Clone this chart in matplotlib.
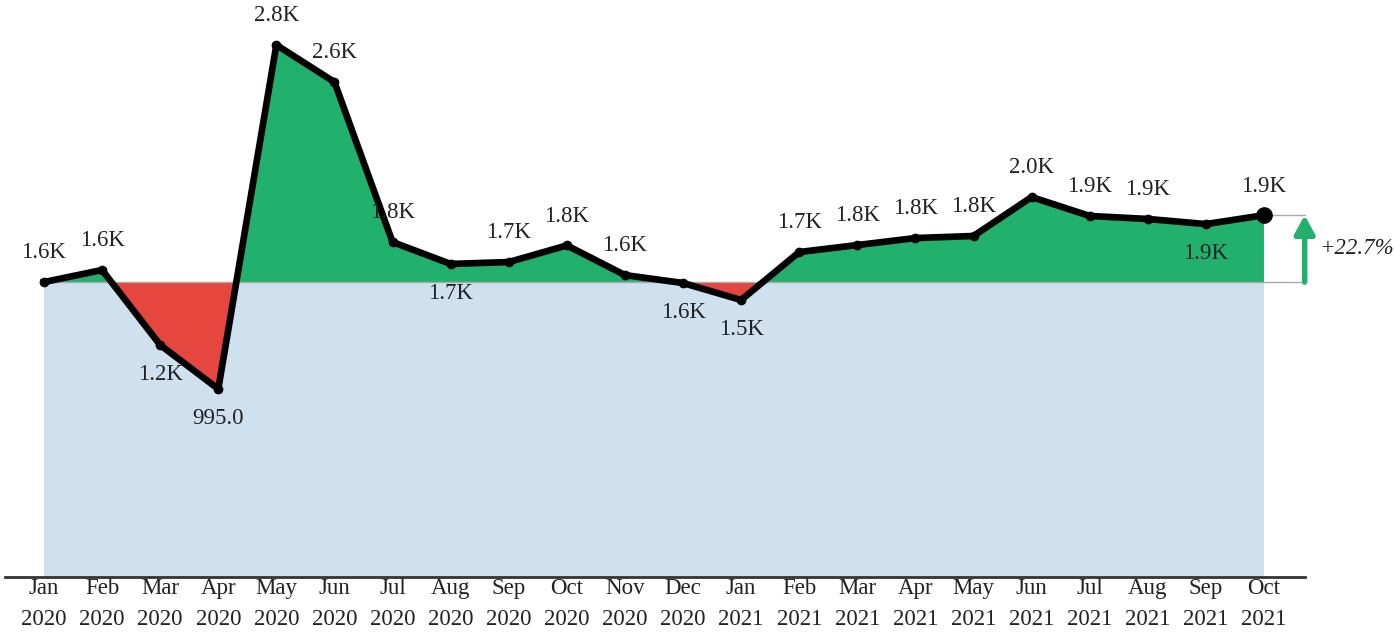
import matplotlib.pyplot as plt
import numpy as np

plt.rcParams['font.family'] = ['Liberation Serif', 'DejaVu Serif']

months = ["Jan", "Feb", "Mar", "Apr", "May", "Jun", "Jul", "Aug", "Sep", "Oct", "Nov", "Dec",
          "Jan", "Feb", "Mar", "Apr", "May", "Jun", "Jul", "Aug", "Sep", "Oct"]
years = ["2020"] * 12 + ["2021"] * 10
values = [1561, 1625, 1228, 995, 2816, 2620, 1773, 1657, 1667, 1755, 1598, 1556,
          1466, 1720, 1757, 1794, 1805, 2011, 1911, 1895, 1868, 1915]
# +1 = label above the point, -1 = below
label_side = [1, 1, -1, -1, 1, 1, 1, -1, 1, 1, 1, -1,
              -1, 1, 1, 1, 1, 1, 1, 1, -1, 1]

green = '#22b06d'
red = '#e5473e'
blue = '#cfe0ef'

fig = plt.figure(figsize=(13.94, 6.33), dpi=100)
ax = fig.add_axes([5 / 1394, 56 / 633, 1300 / 1394, 577 / 633])

x = np.arange(len(values))
v = np.array(values, dtype=float)
base = v[0]

ax.fill_between(x, 0, base, color=blue, lw=0)
ax.fill_between(x, v, base, where=v >= base, interpolate=True, color=green, lw=0)
ax.fill_between(x, v, base, where=v <= base, interpolate=True, color=red, lw=0)

ax.plot([0, 21.7], [base, base], color='#aaaaaa', lw=1, clip_on=False)
ax.plot([x[-1], 21.7], [v[-1], v[-1]], color='#aaaaaa', lw=1, clip_on=False)

ax.plot(x, v, color='black', lw=4.8, marker='o', ms=6, solid_joinstyle='round', zorder=3)
ax.plot(x[-1], v[-1], 'o', color='black', ms=11, zorder=4)

for xi, vi, s in zip(x, v, label_side):
    txt = f"{vi:.1f}" if vi < 1000 else f"{vi / 1000:.1f}K"
    ax.annotate(txt, (xi, vi), xytext=(0, 21 * s), textcoords='offset points',
                ha='center', va='center', fontsize=16.5, color='#222222', zorder=5)

# change arrow
ax.annotate('', xy=(21.7, v[-1]), xytext=(21.7, base),
            arrowprops=dict(arrowstyle='-|>,head_width=0.6,head_length=1.1',
                            color=green, lw=4, shrinkA=0, shrinkB=0),
            annotation_clip=False)
pct = (v[-1] / base - 1) * 100
ax.text(21.95, (v[-1] + base) / 2, f"+{pct:.1f}%", style='italic', fontsize=16.5,
        ha='left', va='center', color='#222222', clip_on=False)

ax.set_xlim(-0.671, 21.706)
ax.set_ylim(0, 3054)
ax.set_xticks(x)
ax.set_xticklabels([f"{m}\n{y}" for m, y in zip(months, years)], fontsize=16.5,
                   color='#222222', linespacing=1.6)
ax.tick_params(axis='x', length=0, pad=1)
ax.set_yticks([])
for side in ['top', 'right', 'left']:
    ax.spines[side].set_visible(False)
ax.spines['bottom'].set_linewidth(2)
ax.spines['bottom'].set_color('#333333')
ax.patch.set_alpha(0)

fig.savefig('out.png', dpi=100)
